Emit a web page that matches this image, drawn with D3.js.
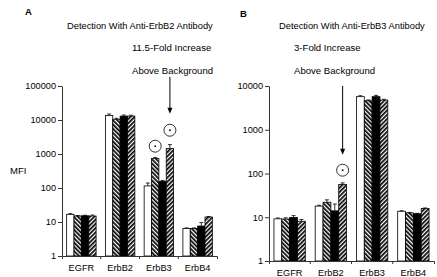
<!DOCTYPE html>
<html>
<head>
<meta charset="utf-8">
<script src="https://cdn.jsdelivr.net/npm/d3@7"></script>
<style>
  body { margin: 0; background: #fff; }
  svg { display: block; }
  svg text { font-family: "Liberation Sans", Arial, Helvetica, sans-serif; fill: #000; }
  .axis path, .axis line { stroke: #333; }
  .axis text { font-size: 9.2px; }
</style>
</head>
<body>
<svg width="437" height="277"></svg>
<script>
const categories = ["EGFR", "ErbB2", "ErbB3", "ErbB4"];
// series: open bar, back hatch, solid, forward hatch
const seriesNames = ["open", "back", "solid", "fwd"];

// Panel A - anti-ErbB2 antibody
const aOpen  = [16.8, 13500, 115, 6.4];
const aBack  = [15, 10500, 733, 6.4];
const aSolid = [15.2, 13000, 157, 7.6];
const aFwd   = [15, 13000, 1440, 14];
const aOpenErr  = [0.8, 1500, 25, 0.3];
const aBackErr  = [0.5, 700, 60, 0.3];
const aSolidErr = [0.6, 1000, 10, 2];
const aFwdErr   = [1, 800, 450, 0.5];
const aTickValues = [1, 10, 100, 1000, 10000, 100000];
const aTickLabels = ["1", "10", "100", "1000", "10000", "100000"];

// Panel B - anti-ErbB3 antibody
const bOpen  = [9.2, 18, 5700, 13.7];
const bBack  = [9.1, 22, 4600, 12.6];
const bSolid = [9.9, 14, 5700, 12];
const bFwd   = [8.1, 56, 4770, 15.8];
const bOpenErr  = [0.4, 0.8, 300, 0.4];
const bBackErr  = [0.6, 3, 200, 0.3];
const bSolidErr = [1, 6, 400, 0.3];
const bFwdErr   = [0.8, 5, 200, 0.5];
const bTickValues = [1, 10, 100, 1000, 10000];
const bTickLabels = ["1", "10", "100", "1000", "10000"];

const svg = d3.select("svg");

// hatch patterns
const defs = svg.append("defs");
function hatch(id, rot) {
  const p = defs.append("pattern")
    .attr("id", id)
    .attr("patternUnits", "userSpaceOnUse")
    .attr("width", 3).attr("height", 3)
    .attr("patternTransform", `rotate(${rot})`);
  p.append("rect").attr("width", 3).attr("height", 3).attr("fill", "#fff");
  p.append("rect").attr("width", 1.7).attr("height", 3).attr("fill", "#000");
}
hatch("hBack", -45);
hatch("hFwd", 45);
const fills = { open: "#fff", back: "url(#hBack)", solid: "#000", fwd: "url(#hFwd)" };

function panel(cfg) {
  const g = svg.append("g");

  const x = d3.scaleBand().domain(categories).range(cfg.xRange).padding(0);
  const groupW = x.bandwidth() * 0.76;
  const x1 = d3.scaleBand().domain(seriesNames).range([0, groupW]).padding(0);
  const off = (x.bandwidth() - groupW) / 2;
  const y = d3.scaleLog().domain(cfg.yDomain).range(cfg.yRange);

  const rows = [];
  seriesNames.forEach((s, si) => {
    categories.forEach((c, ci) => {
      rows.push({ cat: c, s: s, v: cfg.values[si][ci], e: cfg.errors[si][ci] });
    });
  });

  // error bars
  const eb = g.append("g").attr("stroke", "#000").attr("stroke-width", 0.8);
  rows.forEach(d => {
    const cx = x(d.cat) + off + x1(d.s) + x1.bandwidth() / 2;
    eb.append("line").attr("x1", cx).attr("x2", cx)
      .attr("y1", y(d.v)).attr("y2", y(d.v + d.e));
    eb.append("line").attr("x1", cx - 2).attr("x2", cx + 2)
      .attr("y1", y(d.v + d.e)).attr("y2", y(d.v + d.e));
  });

  // bars
  g.append("g").selectAll("rect")
    .data(rows)
    .enter().append("rect")
    .attr("x", d => x(d.cat) + off + x1(d.s))
    .attr("y", d => y(d.v))
    .attr("width", x1.bandwidth())
    .attr("height", d => y(cfg.yDomain[0]) - y(d.v))
    .attr("fill", d => fills[d.s])
    .attr("stroke", "#000")
    .attr("stroke-width", 0.8);

  // y axis
  g.append("g")
    .attr("class", "axis")
    .attr("transform", `translate(${cfg.xRange[0]},0)`)
    .call(d3.axisLeft(y).tickValues(cfg.tickValues)
      .tickFormat((d, i) => cfg.tickLabels[i])
      .tickSize(4).tickSizeOuter(0).tickPadding(2));

  // x axis
  const xa = g.append("g")
    .attr("class", "axis")
    .attr("transform", `translate(0,${cfg.yRange[0]})`)
    .call(d3.axisBottom(x).tickSizeInner(0).tickSizeOuter(3).tickPadding(8.5));
  xa.selectAll(".inner")
    .data(categories.slice(1))
    .enter().append("line")
    .attr("stroke", "#333")
    .attr("x1", d => x(d)).attr("x2", d => x(d))
    .attr("y1", 0).attr("y2", 3);

  // significance circles
  cfg.marks.forEach(m => {
    const cx = x(m.cat) + off + x1(m.s) + x1.bandwidth() / 2;
    g.append("circle").attr("cx", cx).attr("cy", y(m.at)).attr("r", 6)
      .attr("fill", "none").attr("stroke", "#000").attr("stroke-width", 0.8);
    g.append("circle").attr("cx", cx).attr("cy", y(m.at)).attr("r", 0.9).attr("fill", "#000");
  });

  // arrow
  const ax = x(cfg.arrow.cat) + off + x1(cfg.arrow.s) + x1.bandwidth() / 2;
  const y0 = y(cfg.arrow.from), y1 = y(cfg.arrow.to);
  g.append("line").attr("x1", ax).attr("x2", ax).attr("y1", y0).attr("y2", y1 - 4)
    .attr("stroke", "#000").attr("stroke-width", 1);
  g.append("path")
    .attr("d", `M${ax - 2.5},${y1 - 6}L${ax + 2.5},${y1 - 6}L${ax},${y1}Z`)
    .attr("fill", "#000");

  // texts
  g.append("text").attr("x", cfg.letter[0]).attr("y", cfg.letter[1])
    .attr("font-size", 9.5).attr("font-weight", "bold").text(cfg.letterText);
  g.append("text").attr("x", cfg.title[0]).attr("y", cfg.title[1])
    .attr("font-size", 9.3).text(cfg.titleText);
  cfg.note.lines.forEach((t, i) => {
    g.append("text").attr("x", cfg.note.x).attr("y", cfg.note.y + i * 23)
      .attr("font-size", 9.6).text(t);
  });
}

panel({
  xRange: [62, 217], yDomain: [1, 100000], yRange: [256, 86],
  values: [aOpen, aBack, aSolid, aFwd],
  errors: [aOpenErr, aBackErr, aSolidErr, aFwdErr],
  tickValues: aTickValues, tickLabels: aTickLabels,
  marks: [{ cat: "ErbB3", s: "back", at: 1700 }, { cat: "ErbB3", s: "fwd", at: 5000 }],
  arrow: { cat: "ErbB3", s: "fwd", from: 185000, to: 15300 },
  letter: [25, 15], letterText: "A",
  title: [67, 28.5], titleText: "Detection With Anti-ErbB2 Antibody",
  note: { x: 132, y: 50.5, lines: ["11.5-Fold Increase", "Above Background"] }
});

panel({
  xRange: [269, 434], yDomain: [1, 10000], yRange: [261, 86],
  values: [bOpen, bBack, bSolid, bFwd],
  errors: [bOpenErr, bBackErr, bSolidErr, bFwdErr],
  tickValues: bTickValues, tickLabels: bTickLabels,
  marks: [{ cat: "ErbB2", s: "fwd", at: 119 }],
  arrow: { cat: "ErbB2", s: "fwd", from: 10000, to: 270 },
  letter: [240, 17], letterText: "B",
  title: [279, 28.5], titleText: "Detection With Anti-ErbB3 Antibody",
  note: { x: 294, y: 50.5, lines: ["3-Fold Increase", "Above Background"] }
});

// y axis label
svg.append("text").attr("x", 10).attr("y", 174).attr("font-size", 9.5).text("MFI");
</script>
</body>
</html>
